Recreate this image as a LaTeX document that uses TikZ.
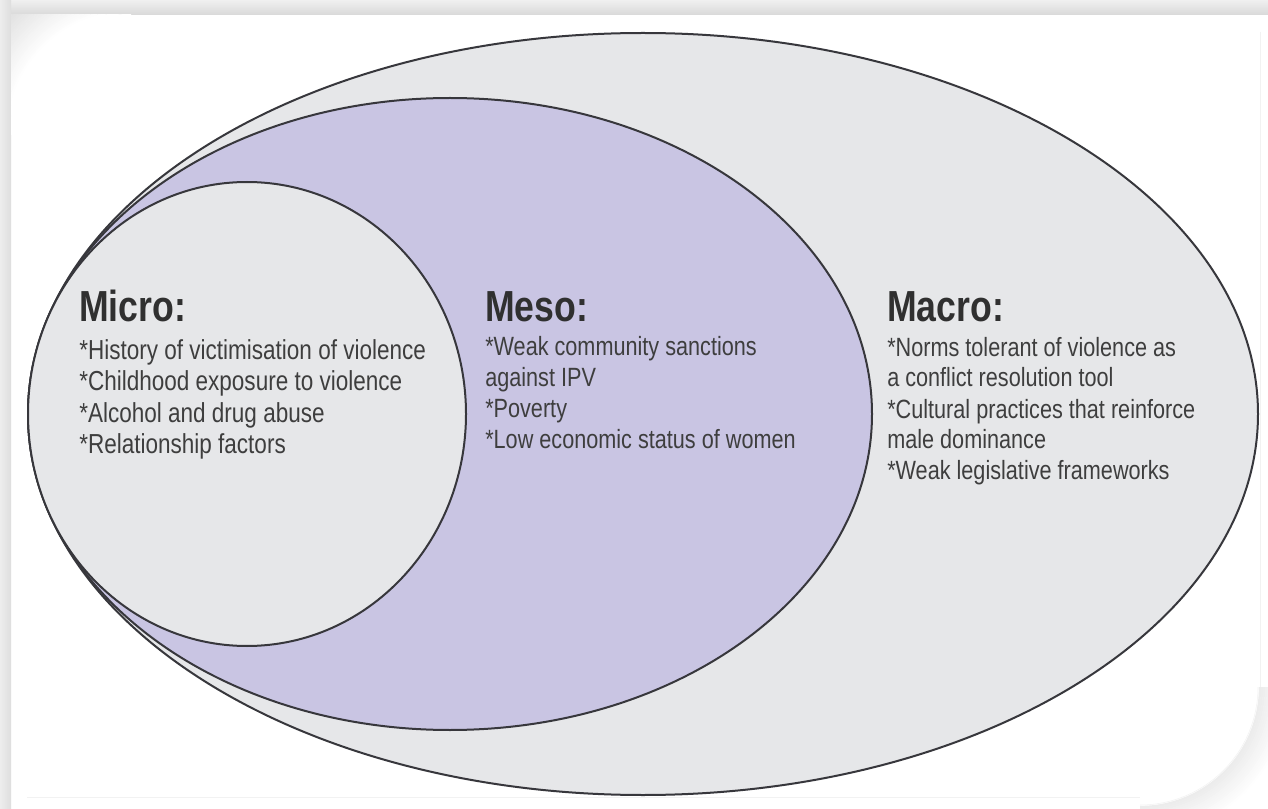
\documentclass[tikz,border=0pt]{standalone}
\usepackage{fontspec}
\newfontfamily\narrowfont{Liberation Sans}[FakeStretch=0.82]
\definecolor{macrofill}{RGB}{230,231,233}
\definecolor{mesofill}{RGB}{201,197,227}
\definecolor{edgecol}{RGB}{55,55,60}
\definecolor{txtcol}{RGB}{62,62,62}
\definecolor{headcol}{RGB}{48,48,48}
\definecolor{bandcol}{RGB}{222,222,222}
\begin{document}
\begin{tikzpicture}[x=0.75pt,y=-0.75pt,
  ring/.style={draw=edgecol, line width=1.5pt},
  head/.style={anchor=base west, inner sep=0pt, text=headcol,
    font=\narrowfont\bfseries\fontsize{32.6}{36}\selectfont},
  bodymicro/.style={anchor=base west, inner sep=0pt, text=txtcol,
    font=\narrowfont\fontsize{20.6}{24}\selectfont},
  bodyother/.style={anchor=base west, inner sep=0pt, text=txtcol,
    font=\narrowfont\fontsize{19.8}{23}\selectfont}]
\useasboundingbox (0,0) rectangle (1268,809);
% page frame
\fill[white] (0,0) rectangle (1268,809);
\shade[top color=gray!12, bottom color=gray!30] (0,0) rectangle (1268,15);
\shade[left color=gray!14, right color=gray!26] (0,0) rectangle (11,809);
\begin{scope}
  \clip (11,15) rectangle (131,135);
  \foreach \r in {120,122,...,172} {
    \pgfmathsetmacro\g{max(0,(\r-124)*0.5)}
    \draw[line width=1.7pt, gray!\g] (131,135) circle [radius=\r];
  }
\end{scope}
\draw[gray!10] (1260,32) -- (1260,687);
\draw[gray!10] (27,797) -- (1140,797);
\begin{scope}
  \clip (1140,687) rectangle (1268,809);
  \foreach \r in {120,122,...,150} {
    \pgfmathsetmacro\g{max(0,(150-\r)*0.5)}
    \draw[line width=1.7pt, gray!\g] (1140,687) circle [radius=\r];
  }
  \draw[gray!10] (1140,687) circle [radius=118];
\end{scope}
% ellipses
\draw[ring, fill=macrofill] (643,414) ellipse [x radius=615, y radius=381];
\draw[ring, fill=mesofill] (450,414) ellipse [x radius=422, y radius=316];
\draw[ring, fill=macrofill] (247,414) ellipse [x radius=219, y radius=232];
% micro text
\node[head] (microhead) at (79,322) {Micro:};
\node[bodymicro] (micro1) at (79,359) {*History of victimisation of violence};
\node[bodymicro] (micro2) at (79,390.5) {*Childhood exposure to violence};
\node[bodymicro] (micro3) at (79,422) {*Alcohol and drug abuse};
\node[bodymicro] (micro4) at (79,453.5) {*Relationship factors};
% meso text
\node[head] (mesohead) at (485,322) {Meso:};
\node[bodyother] (meso1) at (485,356) {*Weak community sanctions};
\node[bodyother] (meso2) at (485,387) {against IPV};
\node[bodyother] (meso3) at (485,417) {*Poverty};
\node[bodyother] (meso4) at (485,448) {*Low economic status of women};
% macro text
\node[head] (macrohead) at (887,322) {Macro:};
\node[bodyother] (macro1) at (887,357) {*Norms tolerant of violence as};
\node[bodyother] (macro2) at (887,387) {a conflict resolution tool};
\node[bodyother] (macro3) at (887,418) {*Cultural practices that reinforce};
\node[bodyother] (macro4) at (887,448) {male dominance};
\node[bodyother] (macro5) at (887,479) {*Weak legislative frameworks};
\end{tikzpicture}
\end{document}
